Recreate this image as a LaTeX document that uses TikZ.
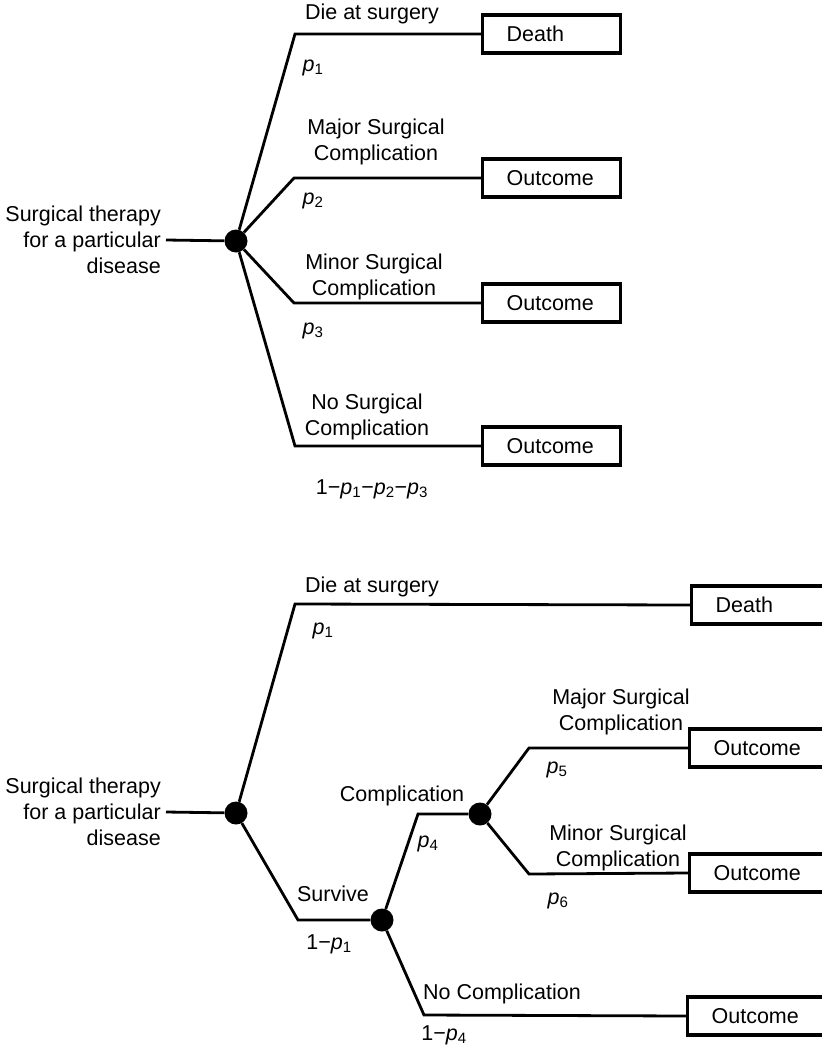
\documentclass[tikz,border=0pt]{standalone}
\usepackage{fontspec}
\setmainfont{Liberation Sans}
\newcommand{\pr}[1]{\textit{p}\textsubscript{#1}}
\begin{document}
\begin{tikzpicture}[x=1pt, y=-1pt,
  font=\fontsize{21.5}{26}\selectfont,
  chance/.style={circle, fill=black, minimum size=23pt, inner sep=0pt},
  result/.style={draw, line width=3.2pt, minimum width=138pt, minimum height=38pt,
    text width=90pt, align=left, inner sep=0pt, anchor=west},
  branch/.style={line width=2.8pt, line join=miter},
  lbl/.style={align=center, inner sep=0pt}]
\useasboundingbox (0,0) rectangle (822,1047);
\clip (0,0) rectangle (822,1047);

% First tree
\node[align=right, anchor=east, inner sep=0pt] (root1) at (161,240) {Surgical therapy\\for a particular\\disease};
\node[chance] (c0) at (236,241) {};
\coordinate (k1) at (295,34);
\coordinate (k2) at (294,178);
\coordinate (k3) at (294,303);
\coordinate (k4) at (295,446);
\node[result] (death1) at (481,34) {Death};
\node[result] (out2) at (481,178) {Outcome};
\node[result] (out3) at (481,303) {Outcome};
\node[result] (out4) at (481,446) {Outcome};
\draw[branch] (root1.east) ++(5,0) -- (c0);
\draw[branch] (c0) -- (k1) -- (death1.west);
\draw[branch] (c0) -- (k2) -- (out2.west);
\draw[branch] (c0) -- (k3) -- (out3.west);
\draw[branch] (c0) -- (k4) -- (out4.west);
\node[lbl] (l1) at (372,14) {Die at surgery};
\node[lbl] (l2) at (376,142) {Major Surgical\\Complication};
\node[lbl] (l3) at (374,277) {Minor Surgical\\Complication};
\node[lbl] (l4) at (367,417) {No Surgical\\Complication};
\node[lbl] (q1) at (313,68) {\pr{1}};
\node[lbl] (q2) at (313,201) {\pr{2}};
\node[lbl] (q3) at (313,331) {\pr{3}};
\node[lbl] (q4) at (372,489) {1−\pr{1}−\pr{2}−\pr{3}};

% Second tree
\node[align=right, anchor=east, inner sep=0pt] (root2) at (161,812) {Surgical therapy\\for a particular\\disease};
\node[chance] (c1) at (236,813) {};
\node[chance] (c2) at (382,920) {};
\node[chance] (c3) at (480,814) {};
\coordinate (k5) at (295,604);
\coordinate (k6) at (298,920);
\coordinate (k7) at (418,814);
\coordinate (k8) at (424,1015);
\coordinate (k9) at (529,748);
\coordinate (k10) at (529,874);
\node[result] (death2) at (690,605) {Death};
\node[result] (out5) at (688,748) {Outcome};
\node[result] (out6) at (688,873) {Outcome};
\node[result] (out7) at (686,1016) {Outcome};
\draw[branch] (root2.east) ++(5,0) -- (c1);
\draw[branch] (c1) -- (k5) -- (death2.west);
\draw[branch] (c1) -- (k6) -- (c2);
\draw[branch] (c2) -- (k7) -- (c3);
\draw[branch] (c2) -- (k8) -- (out7.west);
\draw[branch] (c3) -- (k9) -- (out5.west);
\draw[branch] (c3) -- (k10) -- (out6.west);
\node[lbl] (l5) at (372,587) {Die at surgery};
\node[lbl] (l6) at (333,894) {Survive};
\node[lbl] (l7) at (402,796) {Complication};
\node[lbl] (l8) at (621,712) {Major Surgical\\Complication};
\node[lbl] (l9) at (618,848) {Minor Surgical\\Complication};
\node[lbl] (l10) at (502,994) {No Complication};
\node[lbl] (q5) at (323,631) {\pr{1}};
\node[lbl] (q6) at (329,944) {1−\pr{1}};
\node[lbl] (q7) at (428,844) {\pr{4}};
\node[lbl] (q8) at (557,770) {\pr{5}};
\node[lbl] (q9) at (558,901) {\pr{6}};
\node[lbl] (q10) at (444,1035) {1−\pr{4}};
\end{tikzpicture}
\end{document}
